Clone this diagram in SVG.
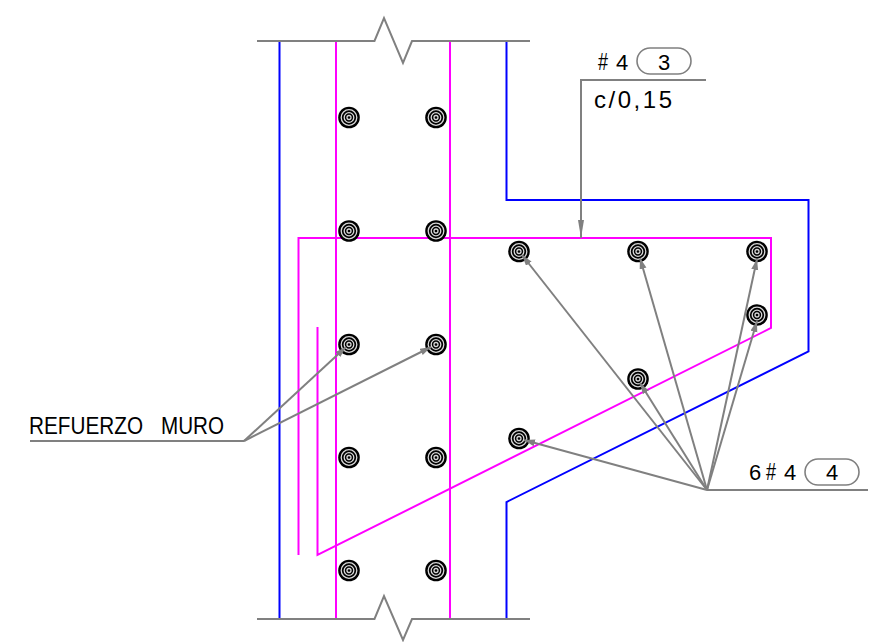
<svg xmlns="http://www.w3.org/2000/svg" width="870" height="642" viewBox="0 0 870 642">
<style>
.l{fill:none;stroke-width:2;stroke-linejoin:miter}
.b{stroke:#0000ff}.m{stroke:#ff00ff}.g{stroke:#808080}
.a{fill:none;stroke:#808080;stroke-width:2;marker-end:url(#ah)}
.t{font-family:"Liberation Sans",Arial,sans-serif;font-size:22px;fill:#000}
.u{font-size:24px}
.p{fill:none;stroke:#808080;stroke-width:1.6}
.r0{fill:#000}.r1{fill:none;stroke:#d8d8d8;stroke-width:1.300}
</style>
<defs>
<marker id="ah" markerUnits="userSpaceOnUse" markerWidth="12" markerHeight="8" refX="11" refY="3.500" orient="auto">
<path d="M0 0L11 3.500L0 7Z" fill="#808080"/>
</marker>
<g id="bar">
<circle class="r0" r="10.800"/>
<circle class="r1" r="7.800"/>
<circle class="r1" r="4.800"/>
<circle class="r1" r="2"/>
</g>
</defs>
<g id="wall-outline">
<path class="l b" d="M279.5 41V619"/>
<path class="l b" d="M506.500 41V200H808.500V351.500L506.500 502V619"/>
</g>
<g id="stirrups">
<path class="l m" d="M336 41V619"/>
<path class="l m" d="M450 41V619"/>
<path class="l m" d="M298.500 555V238H771V328L317.500 555V327"/>
</g>
<g id="breaks">
<path class="l g" d="M257 41H374.500L384 18L403 63L412 41H530"/>
<path class="l g" d="M257 619H374.500L384 596L403 640L412 619H530"/>
</g>
<g id="bars">
<use href="#bar" x="349" y="117.500"/><use href="#bar" x="436" y="117.500"/>
<use href="#bar" x="349" y="231"/><use href="#bar" x="436" y="231"/>
<use href="#bar" x="349" y="344.500"/><use href="#bar" x="436" y="344.500"/>
<use href="#bar" x="349" y="457.500"/><use href="#bar" x="436" y="457.500"/>
<use href="#bar" x="349" y="570.500"/><use href="#bar" x="436" y="570.500"/>
<use href="#bar" x="519" y="251.500"/><use href="#bar" x="638" y="251.500"/>
<use href="#bar" x="757" y="251.500"/><use href="#bar" x="757" y="315"/>
<use href="#bar" x="638" y="379"/><use href="#bar" x="519" y="438.500"/>
</g>
<g id="connectors">
<path class="l g" d="M30 441H244"/>
<path class="a" d="M244 441L346 347"/>
<path class="a" d="M244 441L431 347"/>
<path class="l g" d="M706 80H581V238"/>
<path d="M578 220L581 238L584 220Z" fill="#808080"/>
<path class="l g" d="M707 490H868"/>
<path class="a" d="M707 490L522 255"/>
<path class="a" d="M707 490L640 258"/>
<path class="a" d="M707 490L757 259"/>
<path class="a" d="M707 490L757 321"/>
<path class="a" d="M707 490L640 383"/>
<path class="a" d="M707 490L524 440"/>
</g>
<g id="label-muro">
<text class="t u" x="29" y="433.500" textLength="114" lengthAdjust="spacingAndGlyphs">REFUERZO</text>
<text class="t u" x="161" y="433.500" textLength="63" lengthAdjust="spacingAndGlyphs">MURO</text>
</g>
<g id="label-3">
<text class="t u" x="598" y="70" textLength="10" lengthAdjust="spacingAndGlyphs">#</text>
<text class="t" x="616" y="70">4</text>
<rect class="p" x="637" y="48" width="54" height="26" rx="13"/>
<text class="t" x="664" y="70" text-anchor="middle">3</text>
<text class="t u" x="594" y="108" textLength="78" lengthAdjust="spacing">c/0,15</text>
</g>
<g id="label-4">
<text class="t" x="749" y="480">6</text>
<text class="t u" x="766" y="480" textLength="10" lengthAdjust="spacingAndGlyphs">#</text>
<text class="t" x="784" y="480">4</text>
<rect class="p" x="805" y="459" width="54" height="26" rx="13"/>
<text class="t" x="832" y="480" text-anchor="middle">4</text>
</g>
</svg>
